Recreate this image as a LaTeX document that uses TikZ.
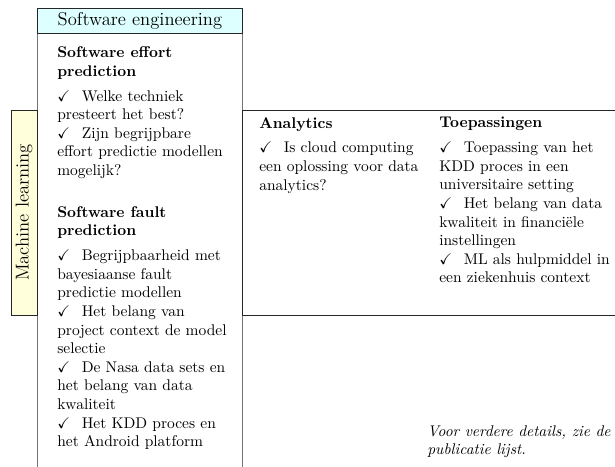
\documentclass[tikz,border=0pt]{standalone}
\usepackage{amssymb}
\newcommand{\ck}{$\checkmark$\hspace{0.75em}}
\definecolor{hdrfill}{rgb}{0.87,1,1}
\definecolor{mlfill}{rgb}{1,1,0.86}
\tikzset{
  txt/.style={anchor=north west, inner sep=0pt, align=left, font=\normalsize},
  framegray/.style={draw=black!55, line width=0.6pt},
  framedark/.style={draw=black!85, line width=0.6pt},
}
\begin{document}
\begin{tikzpicture}[x=0.645pt, y=-0.645pt]
\useasboundingbox (0,0) rectangle (615,467);
% column
\draw[framegray] (37,33) -- (37,467);
\draw[framegray] (242,33) -- (242,467);
% band
\draw[framedark] (615,110) -- (242,110) -- (242,315) -- (615,315);
% header
\node[framedark, fill=hdrfill, minimum width=205*0.645pt, minimum height=25*0.645pt, anchor=north west, inner sep=0pt, font=\large] (hdr) at (37,8) {Software engineering};
% ML label
\node[framedark, fill=mlfill, minimum width=205*0.645pt, minimum height=26*0.645pt, rotate=90, inner sep=0pt, font=\large] (ml) at (24,212.5) {Machine learning};
% column text
\node[txt] (coltext) at (57,46.5) {\textbf{Software effort}\\ \textbf{prediction}\\[4pt]
\ck Welke techniek\\ presteert het best?\\
\ck Zijn begrijpbare\\ effort predictie modellen\\ mogelijk?\\[15pt]
\textbf{Software fault}\\ \textbf{prediction}\\[4pt]
\ck Begrijpbaarheid met\\ bayesiaanse fault\\ predictie modellen\\
\ck Het belang van\\ project context de model\\ selectie\\
\ck De Nasa data sets en\\ het belang van data\\ kwaliteit\\
\ck Het KDD proces en\\ het Android platform};
% analytics
\node[txt] (anal) at (259,117) {\textbf{Analytics}\\[4pt]
\ck Is cloud computing\\ een oplossing voor data\\ analytics?};
% toepassingen
\node[txt] (toep) at (439,117) {\textbf{Toepassingen}\\[4pt]
\ck Toepassing van het\\ KDD proces in een\\ universitaire setting\\
\ck Het belang van data\\ kwaliteit in financi\"ele\\ instellingen\\
\ck ML als hulpmiddel in\\ een ziekenhuis context};
% footnote
\node[txt] (voor) at (427,425) {\itshape Voor verdere details, zie de\\ \itshape publicatie lijst.};
\end{tikzpicture}
\end{document}
